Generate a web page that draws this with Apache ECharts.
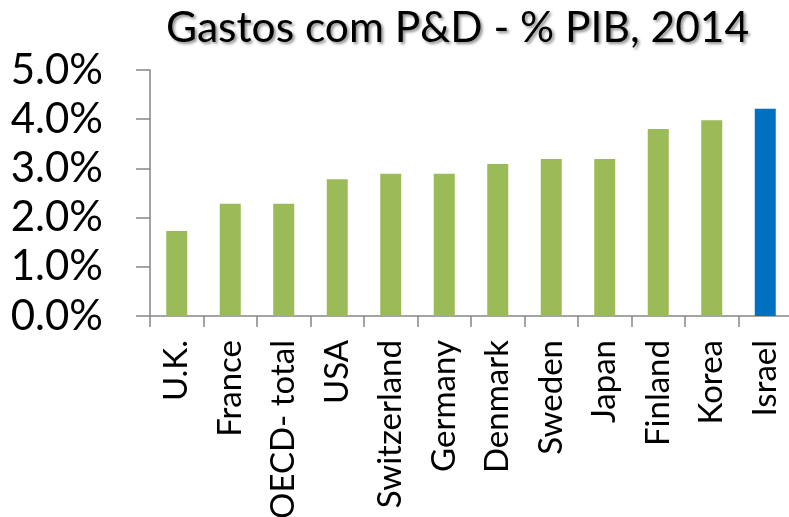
<!DOCTYPE html>
<html lang="pt">
<head>
    <meta charset="UTF-8">
    <title>Gastos com P&D</title>
    <script src="https://cdn.jsdelivr.net/npm/echarts@6/dist/echarts.min.js"></script>
    <style>
        html, body { margin: 0; padding: 0; background: #fff; }
        #charts { width: 789px; height: 517px; }
    </style>
</head>
<body>
<div id="charts"></div>
<script>
    // dados
    var countries = ['U.K.', 'France', 'OECD- total', 'USA', 'Switzerland', 'Germany',
        'Denmark', 'Sweden', 'Japan', 'Finland', 'Korea', 'Israel'];
    var values = [1.73, 2.28, 2.28, 2.78, 2.89, 2.89, 3.09, 3.19, 3.19, 3.8, 3.98, 4.21];
    var highlight = 'Israel';

    var green = '#9BBB59';
    var blue = '#0070C0';
    var axisColor = '#868686';
    var font = 'Lato';

    var myChart = echarts.init(document.getElementById('charts'));

    var option = {
        animation: false,
        title: {
            text: 'Gastos com P&D - % PIB, 2014',
            left: 161,
            top: 2,
            textStyle: {
                fontFamily: font,
                fontWeight: 'normal',
                fontSize: 42.5,
                color: '#000',
                textShadowColor: 'rgba(0,0,0,0.45)',
                textShadowBlur: 3,
                textShadowOffsetX: 2,
                textShadowOffsetY: 2
            }
        },
        grid: {
            left: 150,
            right: -3,
            top: 70,
            bottom: 201,
            outerBoundsMode: 'none',
            containLabel: false
        },
        xAxis: {
            type: 'category',
            data: countries,
            axisLine: { lineStyle: { color: axisColor, width: 1.5 } },
            axisTick: { show: true, alignWithLabel: false, length: 11, lineStyle: { color: axisColor, width: 1.5 } },
            axisLabel: {
                interval: 0,
                rotate: 90,
                margin: 24,
                fontFamily: font,
                fontSize: 33,
                color: '#000'
            }
        },
        yAxis: {
            type: 'value',
            min: 0,
            max: 5,
            interval: 1,
            splitLine: { show: false },
            axisLine: { show: true, lineStyle: { color: axisColor, width: 1.5 } },
            axisTick: { show: true, length: 14, lineStyle: { color: axisColor, width: 1.5 } },
            axisLabel: {
                margin: 47,
                fontFamily: font,
                fontSize: 42,
                color: '#000',
                formatter: function (v) { return v.toFixed(1) + '%'; }
            }
        },
        series: [{
            type: 'bar',
            barWidth: 21,
            data: countries.map(function (c, i) {
                return {
                    value: values[i],
                    itemStyle: { color: c === highlight ? blue : green }
                };
            })
        }]
    };

    myChart.setOption(option);
</script>
</body>
</html>
